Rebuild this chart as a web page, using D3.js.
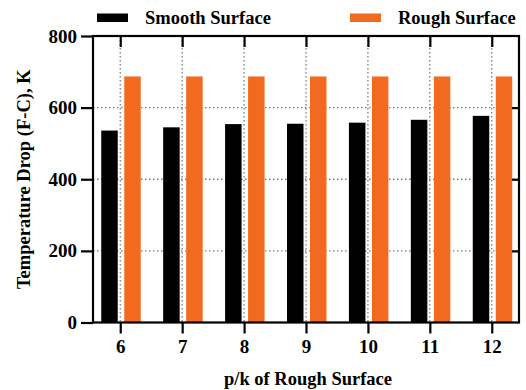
<!DOCTYPE html>
<html>
<head>
<meta charset="utf-8">
<script src="https://cdn.jsdelivr.net/npm/d3@7"></script>
<style>
html,body{margin:0;padding:0;background:#fff;}
svg{display:block;}
text{font-family:"Liberation Serif","Times New Roman",serif;font-weight:bold;fill:#000;}
</style>
</head>
<body>
<svg id="chart" width="526" height="390"></svg>
<script>
const categories = ["6","7","8","9","10","11","12"];
const smoothValues = [536, 545, 554, 555, 558, 566, 577];
const roughValues = [687, 687, 687, 687, 687, 687, 687];
const yTicks = [0, 200, 400, 600, 800];
const seriesNames = ["Smooth Surface", "Rough Surface"];
const seriesColors = ["#000000", "#f26a1f"];

(function () {
const svg = d3.select("#chart");
const pL = 93, pR = 519, pT = 36, pB = 322.5;

const x = d3.scalePoint().domain(categories).range([pL, pR]).padding(0.44);
const y = d3.scaleLinear().domain([0, 800]).range([pB, pT]);

const grid = svg.append("g");
grid.selectAll("line.h").data([200, 400, 600]).enter().append("line")
  .attr("x1", pL).attr("x2", pR)
  .attr("y1", d => y(d)).attr("y2", d => y(d))
  .attr("stroke", "#7a7a7a").attr("stroke-width", 1.3).attr("stroke-dasharray", "1.5,2.5");
grid.selectAll("line.v").data(categories).enter().append("line")
  .attr("x1", d => x(d)).attr("x2", d => x(d))
  .attr("y1", pT).attr("y2", pB)
  .attr("stroke", "#7a7a7a").attr("stroke-width", 1.3).attr("stroke-dasharray", "1.5,2.5");

const bw = 16.5;
svg.append("g").selectAll("rect").data(categories).enter().append("rect")
  .attr("x", d => x(d) - 19).attr("width", bw)
  .attr("y", (d, i) => y(smoothValues[i]))
  .attr("height", (d, i) => y(0) - y(smoothValues[i]))
  .attr("fill", seriesColors[0]);
svg.append("g").selectAll("rect").data(categories).enter().append("rect")
  .attr("x", d => x(d) + 4).attr("width", bw)
  .attr("y", (d, i) => y(roughValues[i]))
  .attr("height", (d, i) => y(0) - y(roughValues[i]))
  .attr("fill", seriesColors[1]);

svg.append("rect").attr("x", pL).attr("y", pT).attr("width", pR - pL).attr("height", pB - pT)
  .attr("fill", "none").attr("stroke", "#000").attr("stroke-width", 2.2);

const yAxis = svg.append("g").attr("transform", `translate(${pL},0)`)
  .call(d3.axisLeft(y).tickValues(yTicks).tickSize(12).tickPadding(4));
yAxis.select(".domain").remove();
yAxis.selectAll("line").attr("stroke-width", 2.2);
yAxis.selectAll("text").attr("font-size", 19)
  .style("font-family", "Liberation Serif").style("font-weight", "bold");

const yRight = svg.append("g").attr("transform", `translate(${pR},0)`)
  .call(d3.axisLeft(y).tickValues([200, 400, 600]).tickSize(7).tickFormat(""));
yRight.select(".domain").remove();
yRight.selectAll("line").attr("stroke-width", 2.2);

const xAxis = svg.append("g").attr("transform", `translate(0,${pB})`)
  .call(d3.axisBottom(x).tickSize(11).tickPadding(6));
xAxis.select(".domain").remove();
xAxis.selectAll("line").attr("stroke-width", 2.2);
xAxis.selectAll("text").attr("font-size", 19)
  .style("font-family", "Liberation Serif").style("font-weight", "bold");

const xTop = svg.append("g").attr("transform", `translate(0,${pT})`)
  .call(d3.axisBottom(x).tickSize(11).tickFormat(""));
xTop.select(".domain").remove();
xTop.selectAll("line").attr("stroke-width", 2.2);

svg.append("text").attr("x", 308).attr("y", 385).attr("text-anchor", "middle")
  .attr("font-size", 18.5).text("p/k of Rough Surface");
svg.append("text").attr("transform", `translate(30,${(pT + pB) / 2}) rotate(-90)`)
  .attr("text-anchor", "middle").attr("font-size", 18.5).text("Temperature Drop (F-C), K");

const legendX = [97, 350];
const lg = svg.append("g");
seriesNames.forEach((name, i) => {
  lg.append("rect").attr("x", legendX[i]).attr("y", 13.5).attr("width", 31).attr("height", 8.5)
    .attr("fill", seriesColors[i]);
  lg.append("text").attr("x", legendX[i] + 48).attr("y", 24).attr("font-size", 18.5).text(name);
});
})();
</script>
</body>
</html>
